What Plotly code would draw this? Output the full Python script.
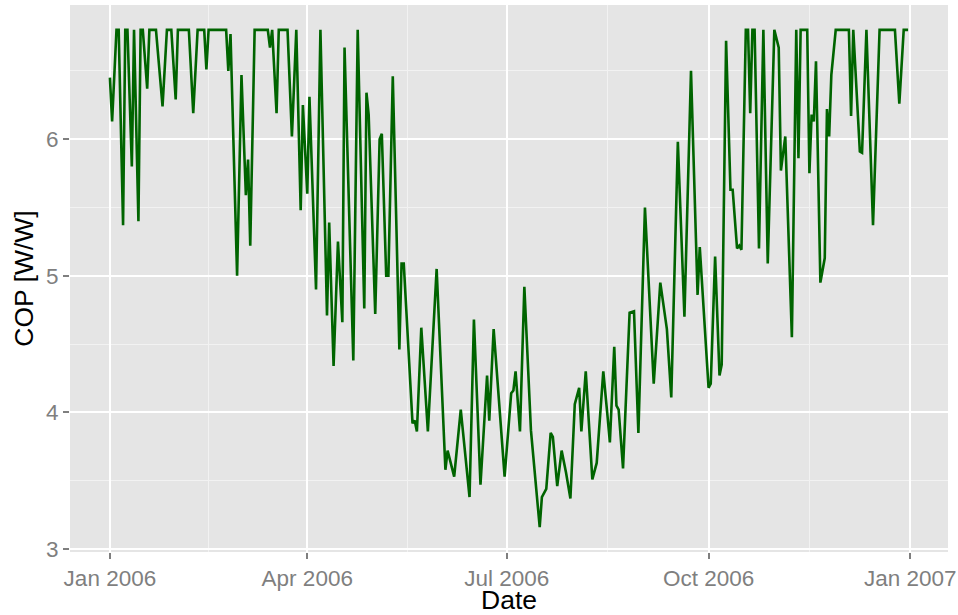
import pandas as pd
import plotly.graph_objects as go

# day offset from 2006-01-01 and COP values
day = [0, 1, 3, 4, 6, 7, 8, 10, 11, 13,
       14, 15, 17, 18, 21, 24, 26, 28, 30, 31,
       36, 38, 40, 43, 44, 45, 53, 54, 55, 58,
       60, 62, 63, 64, 66, 72, 73, 74, 76, 77,
       81, 83, 85, 87, 88, 90, 91, 94, 96, 99,
       100, 102, 104, 106, 107, 111, 113, 116, 117, 118,
       121, 123, 124, 126, 127, 129, 132, 133, 134, 138,
       139, 140, 142, 145, 149, 153, 154, 157, 160, 164,
       166, 169, 172, 173, 175, 180, 183, 184, 185, 187,
       189, 192, 196, 197, 199, 201, 202, 204, 206, 208,
       210, 212, 214, 215, 217, 220, 222, 225, 227, 228,
       230, 231, 232, 234, 237, 239, 241, 244, 248, 251,
       254, 256, 259, 262, 265, 268, 269, 273, 274, 276,
       278, 279, 281, 283, 284, 286, 287, 288, 290, 291,
       292, 293, 294, 296, 298, 300, 303, 305, 306, 308,
       311, 313, 314, 315, 318, 319, 320, 321, 322, 324,
       326, 327, 328, 329, 331, 337, 338, 339, 342, 343,
       345, 348, 351, 358, 360, 362, 364]

cop = [6.45, 6.13, 6.8, 6.8, 5.37, 6.8, 6.8, 5.8, 6.8, 5.4,
       6.8, 6.8, 6.37, 6.8, 6.8, 6.24, 6.8, 6.8, 6.29, 6.8,
       6.8, 6.19, 6.8, 6.8, 6.51, 6.8, 6.8, 6.5, 6.77, 5.0,
       6.47, 5.59, 5.85, 5.22, 6.8, 6.8, 6.67, 6.8, 6.19, 6.8,
       6.8, 6.02, 6.8, 5.48, 6.25, 5.6, 6.31, 4.9, 6.8, 4.71,
       5.39, 4.34, 5.25, 4.66, 6.67, 4.38, 6.8, 4.76, 6.34, 6.18,
       4.72, 6.0, 6.04, 5.0, 5.0, 6.46, 4.46, 5.09, 5.09, 3.92,
       3.94, 3.86, 4.62, 3.86, 5.05, 3.58, 3.72, 3.53, 4.02, 3.38,
       4.68, 3.47, 4.27, 3.94, 4.61, 3.53, 4.14, 4.16, 4.3, 3.86,
       4.92, 3.87, 3.16, 3.38, 3.44, 3.85, 3.82, 3.46, 3.72, 3.56,
       3.37, 4.06, 4.18, 3.86, 4.3, 3.51, 3.63, 4.3, 3.96, 3.78,
       4.48, 4.05, 4.02, 3.59, 4.73, 4.74, 3.85, 5.5, 4.21, 4.95,
       4.61, 4.11, 5.98, 4.7, 6.5, 4.86, 5.21, 4.18, 4.21, 5.14,
       4.27, 4.35, 6.72, 5.63, 5.63, 5.2, 5.22, 5.19, 6.8, 6.8,
       6.19, 6.8, 6.8, 5.2, 6.8, 5.09, 6.8, 6.67, 5.77, 6.02,
       4.55, 6.8, 5.86, 6.8, 6.8, 5.75, 6.18, 6.13, 6.57, 4.95,
       5.13, 6.22, 6.02, 6.47, 6.8, 6.8, 6.17, 6.8, 5.91, 5.9,
       6.8, 5.37, 6.8, 6.8, 6.26, 6.8, 6.8]

x_tick_dates = ["2006-01-01", "2006-04-01", "2006-07-01", "2006-10-01", "2007-01-01"]
x_tick_text = ["Jan 2006", "Apr 2006", "Jul 2006", "Oct 2006", "Jan 2007"]
y_ticks = [3, 4, 5, 6]

start = pd.Timestamp("2006-01-01")
dates = start + pd.to_timedelta(day, unit="D")

# ggplot-like 5% expansion
dmin, dmax = dates.min(), dates.max()
dspan = dmax - dmin
xr = [dmin - 0.05 * dspan, dmax + 0.05 * dspan]
ymin, ymax = min(cop), max(cop)
yspan = ymax - ymin
yr = [ymin - 0.05 * yspan, ymax + 0.05 * yspan]

# minor gridlines midway between major breaks
xt = pd.to_datetime(x_tick_dates)
x_minor = [xt[i] + (xt[i + 1] - xt[i]) / 2 for i in range(len(xt) - 1)]
y_minor = [(y_ticks[i] + y_ticks[i + 1]) / 2 for i in range(len(y_ticks) - 1)] + [y_ticks[-1] + 0.5]

fig = go.Figure()
fig.add_trace(go.Scatter(
    x=dates, y=cop, mode="lines",
    line=dict(color="#006400", width=2.6),
    hoverinfo="skip", showlegend=False,
))

font_family = "Liberation Sans, Arial, Helvetica, sans-serif"
tick_grey = "#7F7F7F"

fig.update_layout(
    width=958, height=615,
    margin=dict(l=70, r=10, t=5, b=63),
    paper_bgcolor="white",
    plot_bgcolor="#E5E5E5",
    font=dict(family=font_family, color=tick_grey, size=22.5),
    xaxis=dict(
        range=xr,
        tickmode="array",
        tickvals=xt,
        ticktext=x_tick_text,
        showgrid=True, gridcolor="white", gridwidth=2,
        zeroline=False, showline=False,
        ticks="outside", ticklen=6, tickwidth=2, tickcolor=tick_grey,
        tickfont=dict(size=22.5, color=tick_grey),
        minor=dict(tickmode="array", tickvals=x_minor, showgrid=True,
                   gridcolor="#F2F2F2", gridwidth=1, ticks=""),
        title=dict(text="Date", font=dict(size=26.5, color="black"), standoff=4),
        automargin=False,
    ),
    yaxis=dict(
        range=yr,
        tickmode="array",
        tickvals=y_ticks,
        ticktext=[str(v) for v in y_ticks],
        showgrid=True, gridcolor="white", gridwidth=2,
        zeroline=False, showline=False,
        ticks="outside", ticklen=6, tickwidth=2, tickcolor=tick_grey,
        tickfont=dict(size=22.5, color=tick_grey),
        minor=dict(tickmode="array", tickvals=y_minor, showgrid=True,
                   gridcolor="#F2F2F2", gridwidth=1, ticks=""),
        title=dict(text="COP [W/W]", font=dict(size=26.5, color="black"), standoff=4),
        automargin=False,
    ),
)

fig.write_html("out.html", config={"displayModeBar": False},
               post_script="document.body.style.margin='0';")
